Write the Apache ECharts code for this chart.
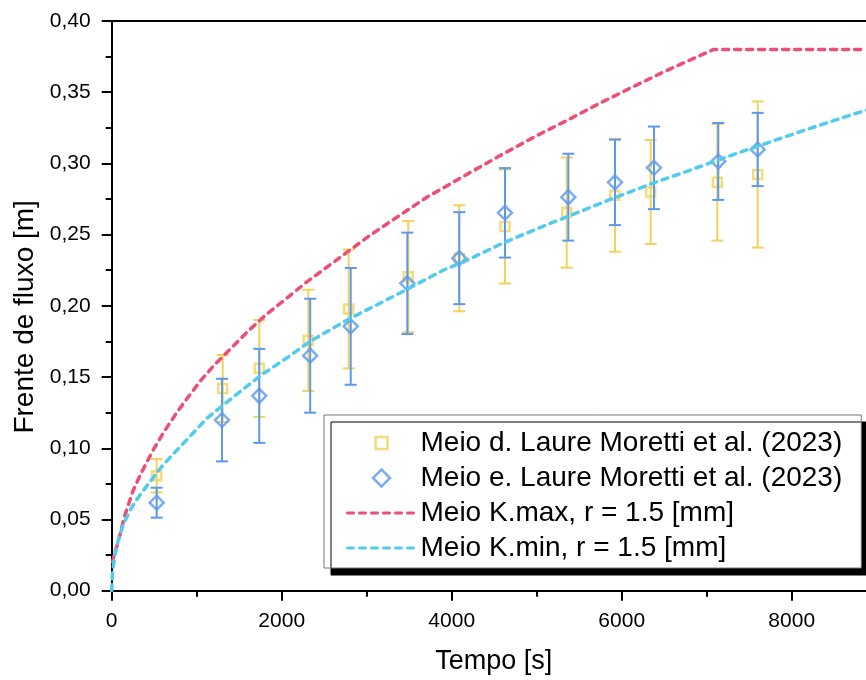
<!DOCTYPE html>
<html>
<head>
<meta charset="utf-8">
<script src="https://cdn.jsdelivr.net/npm/echarts@6/dist/echarts.min.js"></script>
<style>
  html, body { margin: 0; padding: 0; background: #fff; }
  #chart { width: 866px; height: 680px; }
</style>
</head>
<body>
<div id="chart"></div>
<script>
// Measured flow front, medium d (time [s], front [m], error [m])
const timeD  = [529, 1306, 1736, 2313, 2788, 3489, 4089, 4627, 5353, 5921, 6341, 7125, 7600];
const frontD = [0.0807, 0.142, 0.1561, 0.1758, 0.1978, 0.2205, 0.2334, 0.2557, 0.2655, 0.2776, 0.2800, 0.2868, 0.2922];
const errD   = [0.0117, 0.0235, 0.034, 0.0355, 0.0417, 0.039, 0.0372, 0.040, 0.0387, 0.0396, 0.0365, 0.041, 0.0513];

// Measured flow front, medium e
const timeE  = [529, 1298, 1736, 2335, 2812, 3478, 4089, 4627, 5372, 5921, 6380, 7136, 7600];
const frontE = [0.0618, 0.1198, 0.1368, 0.1650, 0.1856, 0.2158, 0.2335, 0.2653, 0.2763, 0.2867, 0.2969, 0.3014, 0.3098];
const errE   = [0.0105, 0.029, 0.033, 0.040, 0.041, 0.0356, 0.0323, 0.0314, 0.0305, 0.030, 0.029, 0.027, 0.0257];

// Model curve, K.max
const timeKmax  = [10, 30, 60, 100, 150, 250, 350, 490, 620, 765, 900, 1040, 1200, 1400, 1600, 1820, 2050, 2300, 2550, 2800, 3050, 3300, 3700, 4200, 4570, 5000, 5350, 5750, 6140, 6500, 6800, 7080, 8880];
const frontKmax = [0.020, 0.026, 0.031, 0.040, 0.052, 0.070, 0.083, 0.099, 0.112, 0.125, 0.136, 0.147, 0.158, 0.170, 0.182, 0.194, 0.205, 0.217, 0.228, 0.239, 0.250, 0.260, 0.276, 0.293, 0.3055, 0.3195, 0.330, 0.3425, 0.354, 0.3644, 0.3725, 0.380, 0.380];

// Model curve, K.min
const timeKmin  = [0, 10, 40, 80, 140, 230, 330, 470, 600, 725, 900, 1120, 1410, 1750, 2050, 2330, 2800, 3390, 3900, 4180, 4600, 5040, 5500, 5900, 6370, 6720, 7330, 7800, 8100, 8500, 8880];
const frontKmin = [0.000, 0.013, 0.026, 0.036, 0.047, 0.058, 0.067, 0.078, 0.088, 0.096, 0.107, 0.121, 0.135, 0.151, 0.163, 0.175, 0.191, 0.209, 0.225, 0.232, 0.244, 0.255, 0.266, 0.2755, 0.2862, 0.2935, 0.3065, 0.3162, 0.3223, 0.3302, 0.3375];

const names = [
  'Meio d. Laure Moretti et al. (2023)',
  'Meio e. Laure Moretti et al. (2023)',
  'Meio K.max, r = 1.5 [mm]',
  'Meio K.min, r = 1.5 [mm]'
];

const YELLOW = '#f1d25a';
const BLUE = '#5b99ee';
const RED = '#ee4d74';
const CYAN = '#52cbee';
const FONT = "'Liberation Sans', Arial, sans-serif";

const zip = (a, b, c) => a.map((v, i) => c ? [v, b[i], c[i]] : [v, b[i]]);

function errorBars(color) {
  return function (params, api) {
    const x = api.value(0), y = api.value(1), e = api.value(2);
    const top = api.coord([x, y + e]);
    const bot = api.coord([x, y - e]);
    const hw = 6;
    const style = { stroke: color, lineWidth: 2 };
    return {
      type: 'group',
      children: [
        { type: 'line', shape: { x1: top[0], y1: top[1], x2: bot[0], y2: bot[1] }, style },
        { type: 'line', shape: { x1: top[0] - hw, y1: top[1], x2: top[0] + hw, y2: top[1] }, style },
        { type: 'line', shape: { x1: bot[0] - hw, y1: bot[1], x2: bot[0] + hw, y2: bot[1] }, style }
      ]
    };
  };
}

const chart = echarts.init(document.getElementById('chart'), null, { renderer: 'canvas' });

const dashed = (color) => ({ color, width: 3.5, type: [6, 6], cap: 'round' });

chart.setOption({
  animation: false,
  backgroundColor: '#fff',
  textStyle: { fontFamily: FONT },
  grid: {
    left: 111.7, top: 21, width: 850, bottom: 89.3,
    containLabel: false,
    outerBoundsMode: 'none'
  },
  legend: {
    orient: 'vertical',
    left: 324,
    top: 415,
    padding: [14, 19, 6, 22],
    itemGap: 7,
    itemWidth: 68,
    itemHeight: 18,
    backgroundColor: '#fff',
    borderColor: '#777',
    borderWidth: 1,
    borderRadius: 0,
    shadowColor: '#000',
    shadowBlur: 0,
    shadowOffsetX: 7,
    shadowOffsetY: 7,
    textStyle: { fontFamily: FONT, fontSize: 28, color: '#000' },
    lineStyle: { width: 3 },
    data: [
      { name: names[0], icon: 'path://M0,0M18,18M3,3H15V15H3Z',
        itemStyle: { color: 'rgba(255,255,255,0)', borderColor: YELLOW, borderWidth: 2.5 } },
      { name: names[1], icon: 'path://M0,0M18,18M9,0.5L17.5,9L9,17.5L0.5,9Z',
        itemStyle: { color: 'rgba(255,255,255,0)', borderColor: BLUE, borderWidth: 2.5 } },
      { name: names[2], itemStyle: { opacity: 0 } },
      { name: names[3], itemStyle: { opacity: 0 } }
    ]
  },
  xAxis: [{
    type: 'value',
    min: 0,
    max: 10000,
    interval: 2000,
    name: 'Tempo [s]',
    nameLocation: 'middle',
    nameGap: 57,
    nameTextStyle: { fontFamily: FONT, fontSize: 27, color: '#000', padding: [0, 86, 0, 0] },
    axisLine: { onZero: false, lineStyle: { color: '#000', width: 2 } },
    axisTick: { show: true, length: 10, lineStyle: { color: '#000', width: 2 } },
    minorTick: { show: true, splitNumber: 2, length: 6, lineStyle: { color: '#000', width: 2 } },
    axisLabel: {
      fontFamily: FONT, fontSize: 21, color: '#000', margin: 20,
      formatter: (v) => String(v)
    },
    splitLine: { show: false }
  }, {
    type: 'value',
    position: 'top',
    min: 0,
    max: 10000,
    axisLine: { onZero: false, lineStyle: { color: '#000', width: 2 } },
    axisTick: { show: false },
    axisLabel: { show: false },
    splitLine: { show: false }
  }],
  yAxis: {
    type: 'value',
    min: 0,
    max: 0.40,
    interval: 0.05,
    name: 'Frente de fluxo [m]',
    nameLocation: 'middle',
    nameGap: 72,
    nameTextStyle: { fontFamily: FONT, fontSize: 28, color: '#000', padding: [0, 22, 0, 0] },
    axisLine: { show: true, onZero: false, lineStyle: { color: '#000', width: 2 } },
    axisTick: { show: true, length: 10, lineStyle: { color: '#000', width: 2 } },
    minorTick: { show: true, splitNumber: 2, length: 6, lineStyle: { color: '#000', width: 2 } },
    axisLabel: {
      fontFamily: FONT, fontSize: 21, color: '#000', margin: 21,
      formatter: (v) => v.toFixed(2).replace('.', ',')
    },
    splitLine: { show: false }
  },
  series: [
    {
      type: 'custom',
      name: names[0] + ' err',
      renderItem: errorBars(YELLOW),
      encode: { x: 0, y: 1 },
      data: zip(timeD, frontD, errD),
      z: 2
    },
    {
      type: 'scatter',
      name: names[0],
      symbol: 'rect',
      symbolSize: 9,
      itemStyle: { color: 'rgba(255,255,255,0)', borderColor: YELLOW, borderWidth: 2.5 },
      data: zip(timeD, frontD),
      z: 3
    },
    {
      type: 'custom',
      name: names[1] + ' err',
      renderItem: errorBars(BLUE),
      encode: { x: 0, y: 1 },
      data: zip(timeE, frontE, errE),
      z: 4
    },
    {
      type: 'scatter',
      name: names[1],
      symbol: 'diamond',
      symbolSize: 14,
      itemStyle: { color: 'rgba(255,255,255,0)', borderColor: BLUE, borderWidth: 2.5 },
      data: zip(timeE, frontE),
      z: 5
    },
    {
      type: 'line',
      name: names[2],
      showSymbol: false,
      symbol: 'none',
      lineStyle: dashed(RED),
      itemStyle: { color: RED },
      data: zip(timeKmax, frontKmax),
      z: 6
    },
    {
      type: 'line',
      name: names[3],
      showSymbol: false,
      symbol: 'none',
      lineStyle: dashed(CYAN),
      itemStyle: { color: CYAN },
      data: zip(timeKmin, frontKmin),
      z: 6
    }
  ]
});
</script>
</body>
</html>
